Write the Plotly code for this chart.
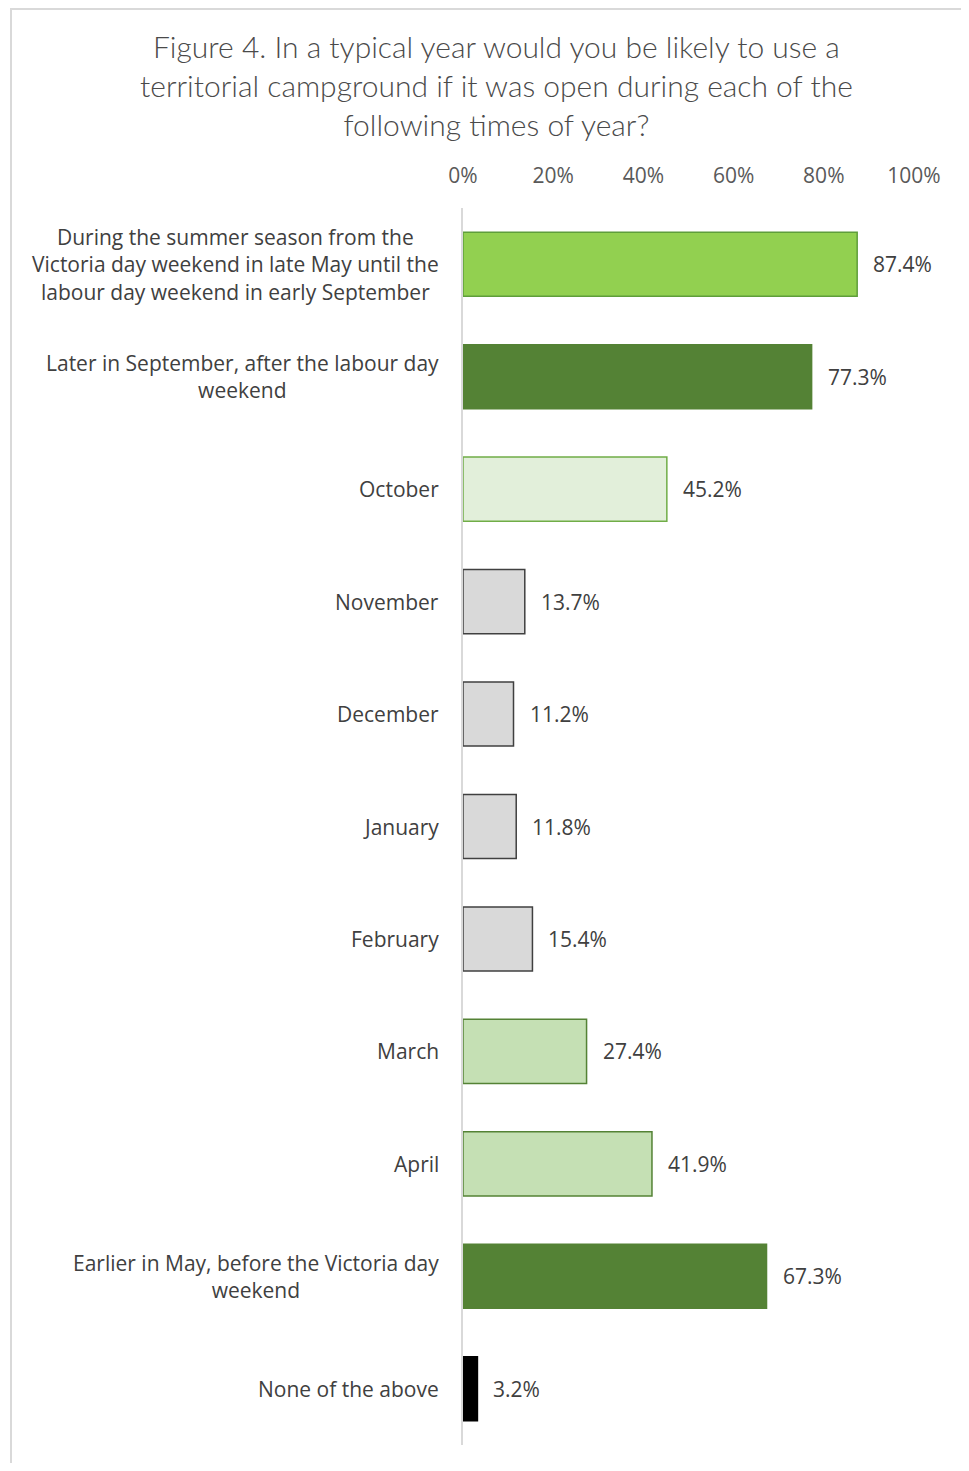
import plotly.graph_objects as go

categories = [
    "During the summer season from the<br>Victoria day weekend in late May until the<br>labour day weekend in early September",
    "Later in September, after the labour day<br>weekend",
    "October",
    "November",
    "December",
    "January",
    "February",
    "March",
    "April",
    "Earlier in May, before the Victoria day<br>weekend",
    "None of the above",
]
values = [87.4, 77.3, 45.2, 13.7, 11.2, 11.8, 15.4, 27.4, 41.9, 67.3, 3.2]
value_labels = ["87.4%", "77.3%", "45.2%", "13.7%", "11.2%", "11.8%", "15.4%", "27.4%", "41.9%", "67.3%", "3.2%"]
fill_colors = ["#92D050", "#548235", "#E2EFDA", "#D9D9D9", "#D9D9D9", "#D9D9D9", "#D9D9D9",
               "#C5E0B4", "#C5E0B4", "#548235", "#000000"]
line_colors = ["#5E9E3A", "#548235", "#70AD47", "#404040", "#404040", "#404040", "#404040",
               "#548235", "#548235", "#548235", "#000000"]
tick_vals = [0, 20, 40, 60, 80, 100]
tick_text = ["0%", "20%", "40%", "60%", "80%", "100%"]
title_text = ("Figure 4. In a typical year would you be likely to use a<br>"
              "territorial campground if it was open during each of the<br>"
              "following times of year?")

# figure geometry (page has an 8px body margin)
W, H = 953, 1455
L, R, T, B = 455, 47, 200, 18
PW, PH = W - L - R, H - T - B

ypos = list(range(len(categories)))

fig = go.Figure()
fig.add_trace(go.Bar(
    x=values, y=ypos, orientation="h",
    marker=dict(color=fill_colors, line=dict(color=line_colors, width=1.5)),
    width=0.57, hoverinfo="skip", showlegend=False,
))

annotations = []
for i, (v, lab) in enumerate(zip(values, value_labels)):
    annotations.append(dict(x=v, y=i, xref="x", yref="y", text=lab, showarrow=False,
                            xanchor="left", yanchor="middle", xshift=14,
                            font=dict(family="Open Sans", size=21, color="#404040")))
for i, c in enumerate(categories):
    annotations.append(dict(x=0, y=i, xref="x", yref="y", text=c, showarrow=False,
                            xanchor="right", yanchor="middle", align="center", xshift=-22,
                            font=dict(family="Open Sans", size=21, color="#404040")))
annotations.append(dict(x=(488 - L) / PW, y=1 + (T - 77) / PH, xref="paper", yref="paper",
                        text=title_text, showarrow=False, xanchor="center", yanchor="middle",
                        align="center",
                        font=dict(family="Lato", size=30, color="#4A4A4A", weight=300)))

fig.update_layout(
    width=W, height=H,
    margin=dict(l=L, r=R, t=T, b=B, autoexpand=False),
    paper_bgcolor="white", plot_bgcolor="white",
    xaxis=dict(range=[0, 100], side="top", tickvals=tick_vals, ticktext=tick_text,
               showgrid=False, zeroline=False, showline=False, ticks="",
               ticklabelstandoff=20,
               tickfont=dict(family="Open Sans", size=21, color="#595959"), fixedrange=True),
    yaxis=dict(range=[len(categories) - 0.5, -0.5], showticklabels=False, showgrid=False,
               zeroline=False, showline=True, linecolor="#D9D9D9", linewidth=2, ticks="",
               fixedrange=True),
    annotations=annotations,
    shapes=[dict(type="rect", xref="paper", yref="paper",
                 x0=(3 - L) / PW, x1=(1000 - L) / PW,
                 y0=-(60) / PH, y1=1 + (T - 1) / PH,
                 line=dict(color="#D9D9D9", width=2), layer="below")],
)

fig.write_html("out.html")
